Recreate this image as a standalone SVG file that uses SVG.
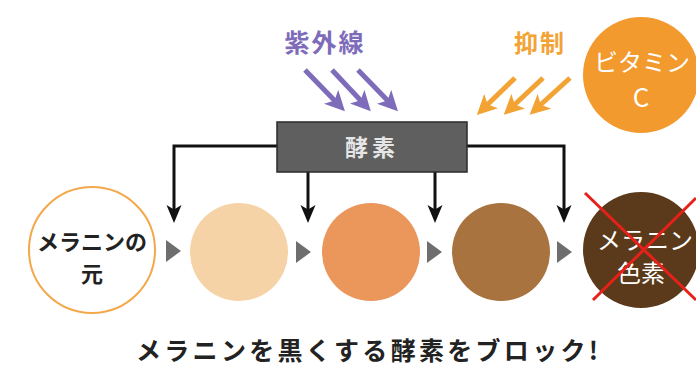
<svg xmlns="http://www.w3.org/2000/svg" width="696" height="368" viewBox="0 0 696 368">
<style>
.jp{font-family:"Noto Sans CJK JP","Noto Sans",sans-serif;}
.conn{stroke:#111;stroke-width:3;fill:none;}
.tri{fill:#6e6e6e;}
.uv{stroke:#7e6cba;stroke-width:5;fill:none;}
.inh{stroke:#f3a234;stroke-width:5;fill:none;}
</style>
<defs>
<marker id="ah" markerWidth="6" markerHeight="6" refX="3" refY="3" orient="auto" markerUnits="strokeWidth"><path d="M0,0.5 L6,3 L0,5.5 L1.5,3 Z" fill="#111"/></marker>
<marker id="ahp" markerWidth="4" markerHeight="4" refX="2" refY="2" orient="auto" markerUnits="strokeWidth"><path d="M0,0 L4,2 L0,4 L1,2 Z" fill="#7e6cba"/></marker>
<marker id="aho" markerWidth="4" markerHeight="4" refX="2" refY="2" orient="auto" markerUnits="strokeWidth"><path d="M0,0 L4,2 L0,4 L1,2 Z" fill="#f3a234"/></marker>
</defs>
<rect width="696" height="368" fill="#fff"/>

<g id="uv-label"><text class="jp" x="325" y="52" font-size="25" font-weight="bold" fill="#7e6cba" text-anchor="middle" letter-spacing="2">紫外線</text></g>
<g id="uv-arrows">
<line class="uv" x1="305" y1="70" x2="338" y2="104" marker-end="url(#ahp)"/>
<line class="uv" x1="332" y1="70" x2="364" y2="104" marker-end="url(#ahp)"/>
<line class="uv" x1="358" y1="70" x2="391" y2="104" marker-end="url(#ahp)"/>
</g>
<g id="inhibit-label"><text class="jp" x="540" y="52" font-size="24" font-weight="bold" fill="#f3a234" text-anchor="middle" letter-spacing="2">抑制</text></g>
<g id="inhibit-arrows">
<line class="inh" x1="515" y1="78" x2="484" y2="108" marker-end="url(#aho)"/>
<line class="inh" x1="543" y1="78" x2="511" y2="108" marker-end="url(#aho)"/>
<line class="inh" x1="570" y1="78" x2="537" y2="108" marker-end="url(#aho)"/>
</g>
<g id="vitamin-c">
<circle cx="641" cy="75" r="58" fill="#f29a2e"/>
<text class="jp" x="642" y="71" font-size="24" fill="#fff" text-anchor="middle">ビタミン</text>
<text class="jp" x="641" y="107" font-size="26" fill="#fff" text-anchor="middle">C</text>
</g>

<g id="connectors">
<polyline class="conn" points="277,146 174,146 174,214" marker-end="url(#ah)"/>
<polyline class="conn" points="467,146 564,146 564,214" marker-end="url(#ah)"/>
<line class="conn" x1="308" y1="172" x2="308" y2="214" marker-end="url(#ah)"/>
<line class="conn" x1="435" y1="172" x2="435" y2="214" marker-end="url(#ah)"/>
<polygon class="tri" points="166,240 181,251 166,262"/>
<polygon class="tri" points="296,241 311,252 296,263"/>
<polygon class="tri" points="427,241 442,252 427,263"/>
<polygon class="tri" points="557,241 572,252 557,263"/>
</g>

<g id="enzyme">
<rect x="277" y="122" width="190" height="50" fill="#5f5f5f" stroke="#2a2a2a" stroke-width="1.5"/>
<text class="jp" x="372" y="156" font-size="23" font-weight="bold" fill="#e6e6e6" text-anchor="middle" letter-spacing="4">酵素</text>
</g>

<g id="melanin-source">
<circle cx="92" cy="250" r="63" fill="#fff" stroke="#f3a84a" stroke-width="2"/>
<text class="jp" x="92" y="250" font-size="22" font-weight="bold" fill="#222" text-anchor="middle">メラニンの</text>
<text class="jp" x="92" y="282" font-size="22" font-weight="bold" fill="#222" text-anchor="middle">元</text>
</g>
<g id="stage1"><circle cx="239" cy="252" r="49" fill="#f6d3a6"/></g>
<g id="stage2"><circle cx="371" cy="252" r="49" fill="#eb965a"/></g>
<g id="stage3"><circle cx="501" cy="252" r="49" fill="#a8733f"/></g>
<g id="melanin-pigment">
<circle cx="641" cy="250" r="58" fill="#5a3a1b"/>
<text class="jp" x="645" y="249" font-size="24" fill="#fff" text-anchor="middle">メラニン</text>
<text class="jp" x="641" y="282" font-size="24" fill="#fff" text-anchor="middle">色素</text>
<line x1="585" y1="193" x2="696" y2="300" stroke="#e8201a" stroke-width="3"/>
<line x1="593" y1="300" x2="696" y2="198" stroke="#e8201a" stroke-width="3"/>
</g>

<g id="caption"><text class="jp" x="136" y="360" font-size="25" font-weight="bold" fill="#222" textLength="462" lengthAdjust="spacing">メラニンを黒くする酵素をブロック!</text></g>
</svg>
